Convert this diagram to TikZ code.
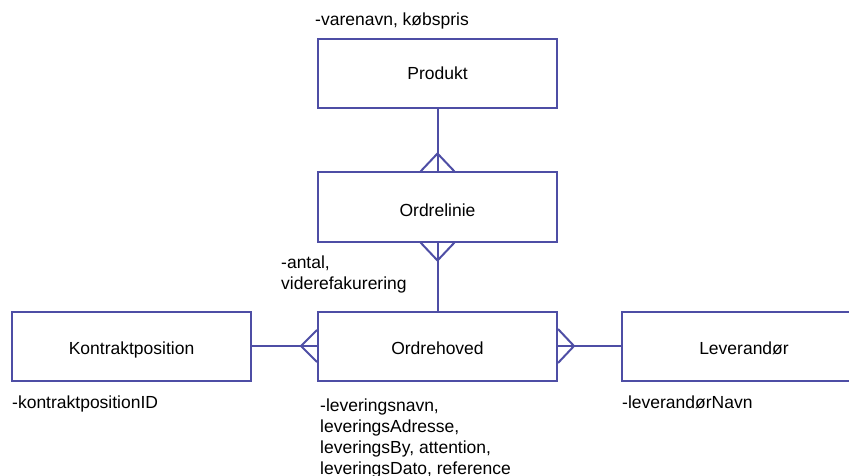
\documentclass[tikz,border=0pt]{standalone}
\usepackage{fontspec}
\setmainfont{Liberation Sans}
\usetikzlibrary{calc}
\definecolor{edge}{RGB}{78,78,165}
\tikzset{
  entity/.style={draw=edge, line width=2pt, minimum width=239pt, minimum height=69pt,
    inner sep=0pt, text height=14pt, text depth=0pt, font=\fontsize{17.5}{21}\selectfont},
  attr/.style={inner sep=0pt, align=left, anchor=base west, font=\fontsize{17.5}{21}\selectfont},
  conn/.style={draw=edge, line width=2pt},
}
\begin{document}
\begin{tikzpicture}[x=1pt, y=-1pt]
\useasboundingbox (0,0) rectangle (849,476);

% entities
\node[entity, text height=12pt] (produkt) at (437.5, 74)  {Produkt};
\node[entity, text height=19pt] (ordrelinie) at (437.5, 207) {Ordrelinie};
\node[entity, text height=16pt] (ordrehoved) at (437.5, 346) {Ordrehoved};
\node[entity, text height=16pt] (kontrakt)   at (131.5, 346) {Kontraktposition};
\node[entity, text height=16pt, minimum width=244pt] (leverandor) at (744, 346) {Leverandør};

% attributes (multi-line ones are anchored at the baseline of their last line)
\node[attr] (a1) at (315, 26)  {-varenavn, købspris};
\node[attr] (a2) at (281, 289) {-antal,\\viderefakurering};
\node[attr] (a3) at (12, 408)  {-kontraktpositionID};
\node[attr] (a4) at (320, 474) {-leveringsnavn,\\leveringsAdresse,\\leveringsBy, attention,\\leveringsDato, reference};
\node[attr] (a5) at (622, 408) {-leverandørNavn};

% relationships
\draw[conn] (produkt.south) -- (ordrelinie.north);
\draw[conn] (ordrelinie.south) -- (ordrehoved.north);
\draw[conn] (kontrakt.east) -- (ordrehoved.west);
\draw[conn] (ordrehoved.east) -- (leverandor.west);

% crow's feet (many side)
\draw[conn] ($(ordrelinie.north)+(-17,0)$) -- ($(ordrelinie.north)+(0,-18)$) -- ($(ordrelinie.north)+(17,0)$);
\draw[conn] ($(ordrelinie.south)+(-17,0)$) -- ($(ordrelinie.south)+(0,18)$) -- ($(ordrelinie.south)+(17,0)$);
\draw[conn] ($(ordrehoved.west)+(0,-16)$) -- ($(ordrehoved.west)+(-16,0)$) -- ($(ordrehoved.west)+(0,16)$);
\draw[conn] ($(ordrehoved.east)+(0,-17)$) -- ($(ordrehoved.east)+(16,0)$) -- ($(ordrehoved.east)+(0,17)$);
\end{tikzpicture}
\end{document}
